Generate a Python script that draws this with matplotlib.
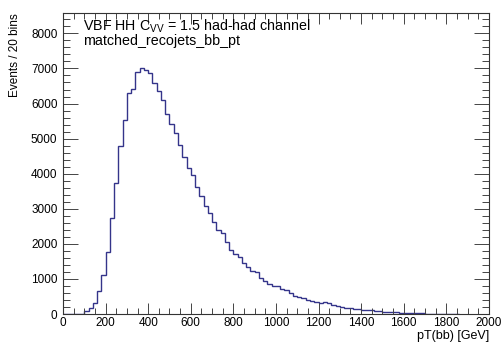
import numpy as np
from matplotlib import pyplot as plt
from matplotlib.ticker import MultipleLocator

plt.rcParams['font.family'] = ['Liberation Sans', 'DejaVu Sans']

# Histogram contents (20 GeV bins starting at 0)
bin_width = 20
counts = [
    0, 0, 0, 0, 0, 90, 160, 320, 650, 1110,
    1775, 2725, 3740, 4790, 5545, 6300, 6420, 6900, 7000, 6950,
    6870, 6590, 6350, 6100, 5710, 5410, 5170, 4815, 4480, 4150,
    3960, 3630, 3360, 3075, 2875, 2630, 2390, 2300, 2060, 1825,
    1710, 1615, 1445, 1330, 1240, 1200, 1015, 940, 845, 800,
    790, 700, 685, 590, 510, 495, 445, 400, 370, 350,
    305, 333, 305, 256, 236, 210, 162, 162, 142, 148,
    114, 114, 114, 95, 80, 66, 66, 55, 45, 40,
    25, 25, 20, 15, 15, 12, 10, 10, 8, 8,
    6, 5, 5,
]
edges = np.arange(len(counts) + 1) * bin_width

title_lines = [r"VBF HH C$_{\mathregular{VV}}$ = 1.5 had-had channel",
               "matched_recojets_bb_pt"]

fig = plt.figure(figsize=(5.04, 3.43), dpi=100)
ax = fig.add_axes([0.125, 0.0845, 0.845, 0.8775])

ax.stairs(counts, edges, color="#34348a", linewidth=1.0, baseline=0)

ax.set_xlim(0, 2000)
ax.set_ylim(0, 8580)

# ROOT-like ticks: inward, all four sides
ax.xaxis.set_major_locator(MultipleLocator(200))
ax.xaxis.set_minor_locator(MultipleLocator(50))
ax.yaxis.set_major_locator(MultipleLocator(1000))
ax.yaxis.set_minor_locator(MultipleLocator(200))
ax.tick_params(which="both", direction="in", top=True, right=True,
               labelsize=8.5, width=0.7, color="#444444")
ax.tick_params(axis="x", which="major", length=8)
ax.tick_params(axis="x", which="minor", length=4)
ax.tick_params(axis="y", which="major", length=11)
ax.tick_params(axis="y", which="minor", length=5)
ax.tick_params(axis="x", pad=2)
ax.tick_params(axis="y", pad=4)
for s in ax.spines.values():
    s.set_linewidth(0.8)
    s.set_color("#333333")

ax.set_xlabel("pT(bb) [GeV]", fontsize=9, loc="right", labelpad=1)
ax.set_ylabel("Events / 20 bins", fontsize=8.5, loc="top", labelpad=7)

ax.text(0.047, 0.985, title_lines[0], transform=ax.transAxes,
        fontsize=10.3, va="top", ha="left")
ax.text(0.047, 0.932, title_lines[1], transform=ax.transAxes,
        fontsize=10.3, va="top", ha="left")

plt.savefig("out.png", dpi=100)
